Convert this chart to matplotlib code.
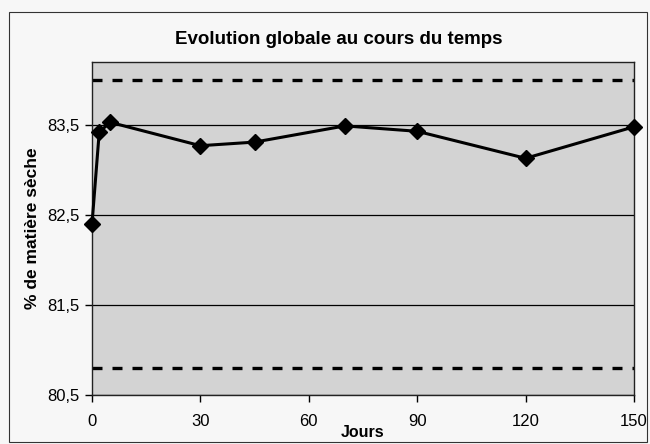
"""Dry matter over time, with control limits."""
import matplotlib.pyplot as plt
from matplotlib.patches import Rectangle
from matplotlib.ticker import FuncFormatter

# Sampling days and measured dry matter (%)
jours = [0, 2, 5, 30, 45, 70, 90, 120, 150]
matiere_seche = [82.40, 83.42, 83.53, 83.27, 83.31, 83.49, 83.43, 83.13, 83.48]

# Upper and lower limits
limite_haute = 84.0
limite_basse = 80.8

y_ticks = [80.5, 81.5, 82.5, 83.5]
x_ticks = [0, 30, 60, 90, 120, 150]

plt.rcParams["font.family"] = ["Liberation Sans", "DejaVu Sans"]

fig = plt.figure(figsize=(6.5, 4.44), dpi=100)
fig.patch.set_facecolor("#f7f7f7")

# chart frame
fig.patches.append(Rectangle((9 / 650, 2 / 444), 638 / 650, 430 / 444,
                             transform=fig.transFigure, fill=False,
                             edgecolor="#333333", linewidth=0.8))

ax = fig.add_axes([92 / 650, 49 / 444, 542 / 650, 333 / 444])
ax.set_facecolor("#d3d3d3")

for v in y_ticks:
    ax.axhline(v, color="black", linewidth=0.9, zorder=1)
for v in (limite_haute, limite_basse):
    ax.axhline(v, color="black", linewidth=2.4, linestyle=(0, (3, 3)), zorder=2)

ax.plot(jours, matiere_seche, color="black", linewidth=2.2, marker="D",
        markersize=8, zorder=3, clip_on=False)

ax.set_xlim(0, 150)
ax.set_ylim(80.5, 84.2)
ax.set_xticks(x_ticks)
ax.set_yticks(y_ticks)
ax.yaxis.set_major_formatter(FuncFormatter(lambda v, p: f"{v:.1f}".replace(".", ",")))
ax.tick_params(direction="out", length=5, width=1, labelsize=12, colors="black")
ax.tick_params(axis="x", pad=9)
ax.tick_params(axis="y", pad=4)
for s in ax.spines.values():
    s.set_color("#222222")
    s.set_linewidth(1)

ax.set_title("Evolution globale au cours du temps", fontsize=13.5, fontweight="bold",
             pad=13, x=0.455)
ax.set_xlabel("Jours", fontsize=11.5, fontweight="bold", labelpad=-3)
ax.set_ylabel("% de matière sèche", fontsize=12.5, fontweight="bold", labelpad=5)

fig.savefig("out.png", dpi=100, facecolor=fig.get_facecolor())
